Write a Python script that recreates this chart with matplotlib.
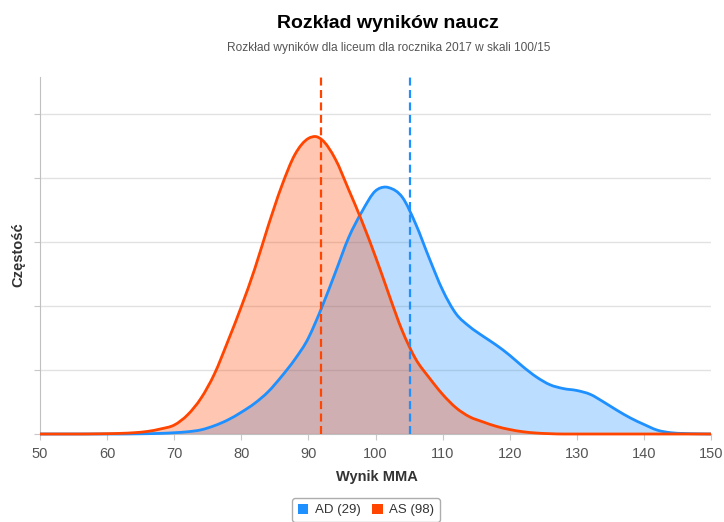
import matplotlib
matplotlib.use("Agg")
import numpy as np
import matplotlib.pyplot as plt
from matplotlib.patches import Patch, PathPatch
from matplotlib.path import Path

# ---- data ----
scores = [50, 52, 54, 56, 58, 60, 62, 64, 66, 68, 70, 72, 74, 76, 78, 80, 82, 84, 86, 88,
          90, 91, 92, 94, 96, 98, 100, 101.5, 102, 104, 106, 108, 110, 112, 114, 116, 118, 120,
          122, 124, 126, 128, 130, 132, 134, 136, 138, 140, 142, 144, 146, 148, 150]
ad_density = [0, 0, 0, 0, 0, 0, 0, 0.002, 0.005, 0.01, 0.02, 0.035, 0.065, 0.13, 0.22, 0.34,
              0.48, 0.66, 0.90, 1.17, 1.50, 1.73, 1.98, 2.52, 3.07, 3.48, 3.80, 3.86, 3.85,
              3.70, 3.28, 2.75, 2.25, 1.88, 1.68, 1.53, 1.39, 1.23, 1.05, 0.89, 0.77, 0.71,
              0.68, 0.62, 0.50, 0.37, 0.25, 0.15, 0.06, 0.02, 0.008, 0.003, 0]
as_density = [0, 0, 0, 0, 0.002, 0.005, 0.01, 0.02, 0.04, 0.08, 0.14, 0.30, 0.56, 0.94, 1.45,
              1.99, 2.58, 3.25, 3.87, 4.37, 4.62, 4.65, 4.60, 4.30, 3.82, 3.32, 2.77, 2.33, 2.18,
              1.61, 1.17, 0.88, 0.62, 0.41, 0.27, 0.19, 0.12, 0.07, 0.035, 0.015, 0.005, 0, 0,
              0, 0, 0, 0, 0, 0, 0, 0, 0, 0]
series_labels = ["AD (29)", "AS (98)"]
series_means = [105.1, 91.9]
x_ticks = [50, 60, 70, 80, 90, 100, 110, 120, 130, 140, 150]
y_ticks = [0, 1, 2, 3, 4, 5]

title = "Rozkład wyników naucz"
subtitle = "Rozkład wyników dla liceum dla rocznika 2017 w skali 100/15"
x_title = "Wynik MMA"
y_title = "Częstość"

BLUE = "#1E90FF"
RED = "#FF4500"
plt.rcParams["font.family"] = ["Liberation Sans", "DejaVu Sans"]


def spline_vertices(xs, ys):
    """Smooth cubic Bezier path through the data points, like an areaspline."""
    x = np.asarray(xs, float)
    y = np.asarray(ys, float)
    h = np.diff(x)
    d = np.diff(y) / h
    m = np.zeros_like(y)
    m[0], m[-1] = d[0], d[-1]
    for i in range(1, len(y) - 1):
        if d[i - 1] * d[i] <= 0:
            m[i] = 0.0
        else:
            m[i] = (h[i] * d[i - 1] + h[i - 1] * d[i]) / (h[i - 1] + h[i])
    verts = [(x[0], y[0])]
    codes = [Path.MOVETO]
    for i in range(len(x) - 1):
        verts += [(x[i] + h[i] / 3, y[i] + m[i] * h[i] / 3),
                  (x[i + 1] - h[i] / 3, y[i + 1] - m[i + 1] * h[i] / 3),
                  (x[i + 1], y[i + 1])]
        codes += [Path.CURVE4] * 3
    return verts, codes


W, H = 724, 522
fig = plt.figure(figsize=(W / 100, H / 100), dpi=100)
ax = fig.add_axes([40 / W, 88 / H, 671 / W, 357 / H])

ax.set_xlim(50, 150)
ax.set_ylim(0, 5.58)

for dens, col, z in [(ad_density, BLUE, 2), (as_density, RED, 3)]:
    v, c = spline_vertices(scores, dens)
    fill_v = v + [(scores[-1], 0), (scores[0], 0), (scores[0], 0)]
    fill_c = c + [Path.LINETO, Path.LINETO, Path.CLOSEPOLY]
    ax.add_patch(PathPatch(Path(fill_v, fill_c), facecolor=col, alpha=0.3, lw=0, zorder=z))
for dens, col, z in [(ad_density, BLUE, 4), (as_density, RED, 5)]:
    v, c = spline_vertices(scores, dens)
    ax.add_patch(PathPatch(Path(v, c), facecolor="none", edgecolor=col, lw=2, zorder=z,
                           clip_on=False))

for m, col in zip(series_means, [BLUE, RED]):
    ax.axvline(m, ymin=0, ymax=1, color=col, lw=1.6, dashes=(3.6, 2.0), zorder=6)

ax.set_yticks(y_ticks)
ax.set_yticklabels([])
ax.set_xticks(x_ticks)
ax.set_xticklabels([str(t) for t in x_ticks])
ax.yaxis.grid(True, color="#e2e2e2", lw=1)
ax.set_axisbelow(True)

for s in ["top", "right"]:
    ax.spines[s].set_visible(False)
ax.spines["left"].set_color("#c0c0c0")
ax.spines["bottom"].set_color("#c0c0c0")
ax.tick_params(axis="x", direction="out", length=4, color="#c8c8c8", labelsize=10.5,
               labelcolor="#555555", pad=5)
ax.tick_params(axis="y", direction="out", length=4, color="#c8c8c8")

fig.text(377 / W, 1 - 477 / H, x_title, ha="center", va="center", fontsize=10.5,
         fontweight="bold", color="#333333")
fig.text(18 / W, 1 - 255 / H, y_title, ha="center", va="center", rotation=90,
         fontsize=10.5, fontweight="bold", color="#333333")

fig.text(388 / W, 1 - 23 / H, title, ha="center", va="center", fontsize=14,
         fontweight="bold", color="#000000")
fig.text(389 / W, 1 - 48 / H, subtitle, ha="center", va="center", fontsize=8.6,
         color="#555555")

handles = [Patch(facecolor=BLUE, edgecolor="none"), Patch(facecolor=RED, edgecolor="none")]
leg = fig.legend(handles, series_labels, loc="center", bbox_to_anchor=(366 / W, 1 - 510 / H),
                 ncol=2, fontsize=9.5, frameon=True, handlelength=0.8, handleheight=0.8,
                 handletextpad=0.5, columnspacing=0.9, borderpad=0.4, fancybox=True)
leg.get_frame().set_edgecolor("#999999")
leg.get_frame().set_linewidth(1)
for t in leg.get_texts():
    t.set_color("#333333")

fig.savefig("out.png", dpi=100)
